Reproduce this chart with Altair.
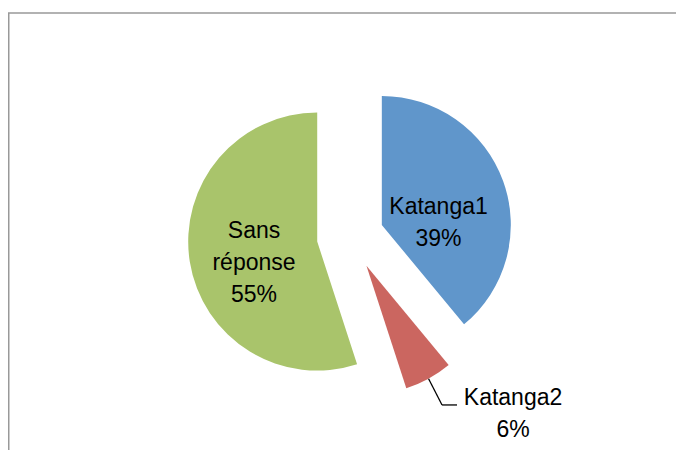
import altair as alt
import pandas as pd

# ---- data ----
categories = ["Katanga1", "Katanga2", "Sans réponse"]
values = [39, 6, 55]
colors = ["#6096CB", "#CB6660", "#A9C46B"]

# ---- layout (pixels, chart coordinates) ----
W, H = 668, 442
CX, CY = 342.3, 228.3      # pie centre before explosion
R = 129                    # pie radius
EXPLODE = 33.5             # distance each slice is pulled out
label_dx = {"Katanga1": 56.7, "Katanga2": 146.6, "Sans réponse": -63.2}
label_dy = {"Katanga1": -11.0, "Katanga2": 139.3, "Sans réponse": -3.5}
outside = {"Katanga1": False, "Katanga2": True, "Sans réponse": False}

df = pd.DataFrame({"category": categories, "value": values,
                   "order": list(range(len(categories)))})
df["ldx"] = df["category"].map(label_dx)
df["ldy"] = df["category"].map(label_dy)
df["outside"] = df["category"].map(outside)

xs = alt.Scale(domain=[0, W])
ys = alt.Scale(domain=[0, H], reverse=True)

base = (
    alt.Chart(df)
    .transform_window(cum="sum(value)", sort=[alt.SortField("order")], frame=[None, 0])
    .transform_joinaggregate(total="sum(value)")
    .transform_calculate(
        fs="(datum.cum - datum.value) / datum.total",
        fe="datum.cum / datum.total",
        mid="2 * PI * (datum.cum - datum.value / 2) / datum.total",
    )
    .transform_calculate(
        vx=f"{CX} + {EXPLODE} * sin(datum.mid)",
        vy=f"{CY} - {EXPLODE} * cos(datum.mid)",
    )
    .transform_calculate(
        lx="datum.vx + datum.ldx",
        ly="datum.vy + datum.ldy",
        ax=f"datum.vx + {R} * sin(datum.mid)",
        ay=f"datum.vy - {R} * cos(datum.mid)",
        label="replace(datum.category, ' ', '\\n') + '\\n' + datum.value + '%'",
    )
    .transform_calculate(
        ex="datum.lx - 71",
        ex2="datum.lx - 56",
    )
)

arcs = base.mark_arc(outerRadius=R, strokeWidth=0).encode(
    x=alt.X("vx:Q", scale=xs, axis=None),
    y=alt.Y("vy:Q", scale=ys, axis=None),
    theta=alt.Theta("fs:Q", scale=alt.Scale(domain=[0, 1]), stack=None),
    theta2="fe:Q",
    color=alt.Color("category:N", scale=alt.Scale(domain=categories, range=colors), legend=None),
)

labels = base.mark_text(
    font="Liberation Sans", fontSize=23, lineHeight=32, lineBreak="\n",
    align="center", baseline="alphabetic", color="black",
).encode(
    x=alt.X("lx:Q", scale=xs, axis=None),
    y=alt.Y("ly:Q", scale=ys, axis=None),
    text="label:N",
)

leader1 = base.transform_filter("datum.outside").mark_rule(color="black", strokeWidth=1.3).encode(
    x=alt.X("ax:Q", scale=xs, axis=None),
    y=alt.Y("ay:Q", scale=ys, axis=None),
    x2="ex:Q",
    y2="ly:Q",
)
leader2 = base.transform_filter("datum.outside").mark_rule(color="black", strokeWidth=1.3).encode(
    x=alt.X("ex:Q", scale=xs, axis=None),
    y=alt.Y("ly:Q", scale=ys, axis=None),
    x2="ex2:Q",
    y2="ly:Q",
)

frame_top = alt.Chart(alt.Data(values=[{}])).mark_rule(color="#999999", strokeWidth=1.5).encode(
    x=alt.value(0), x2=alt.value(W), y=alt.value(5), y2=alt.value(5)
)
frame_left = alt.Chart(alt.Data(values=[{}])).mark_rule(color="#999999", strokeWidth=1.5).encode(
    x=alt.value(0.75), x2=alt.value(0.75), y=alt.value(5), y2=alt.value(H)
)

chart = (
    alt.layer(frame_top, frame_left, arcs, leader1, leader2, labels)
    .properties(width=W, height=H, padding=0, autosize="none")
    .configure_view(stroke=None)
)

chart.save("out.html", embed_options={"renderer": "svg", "actions": False})
